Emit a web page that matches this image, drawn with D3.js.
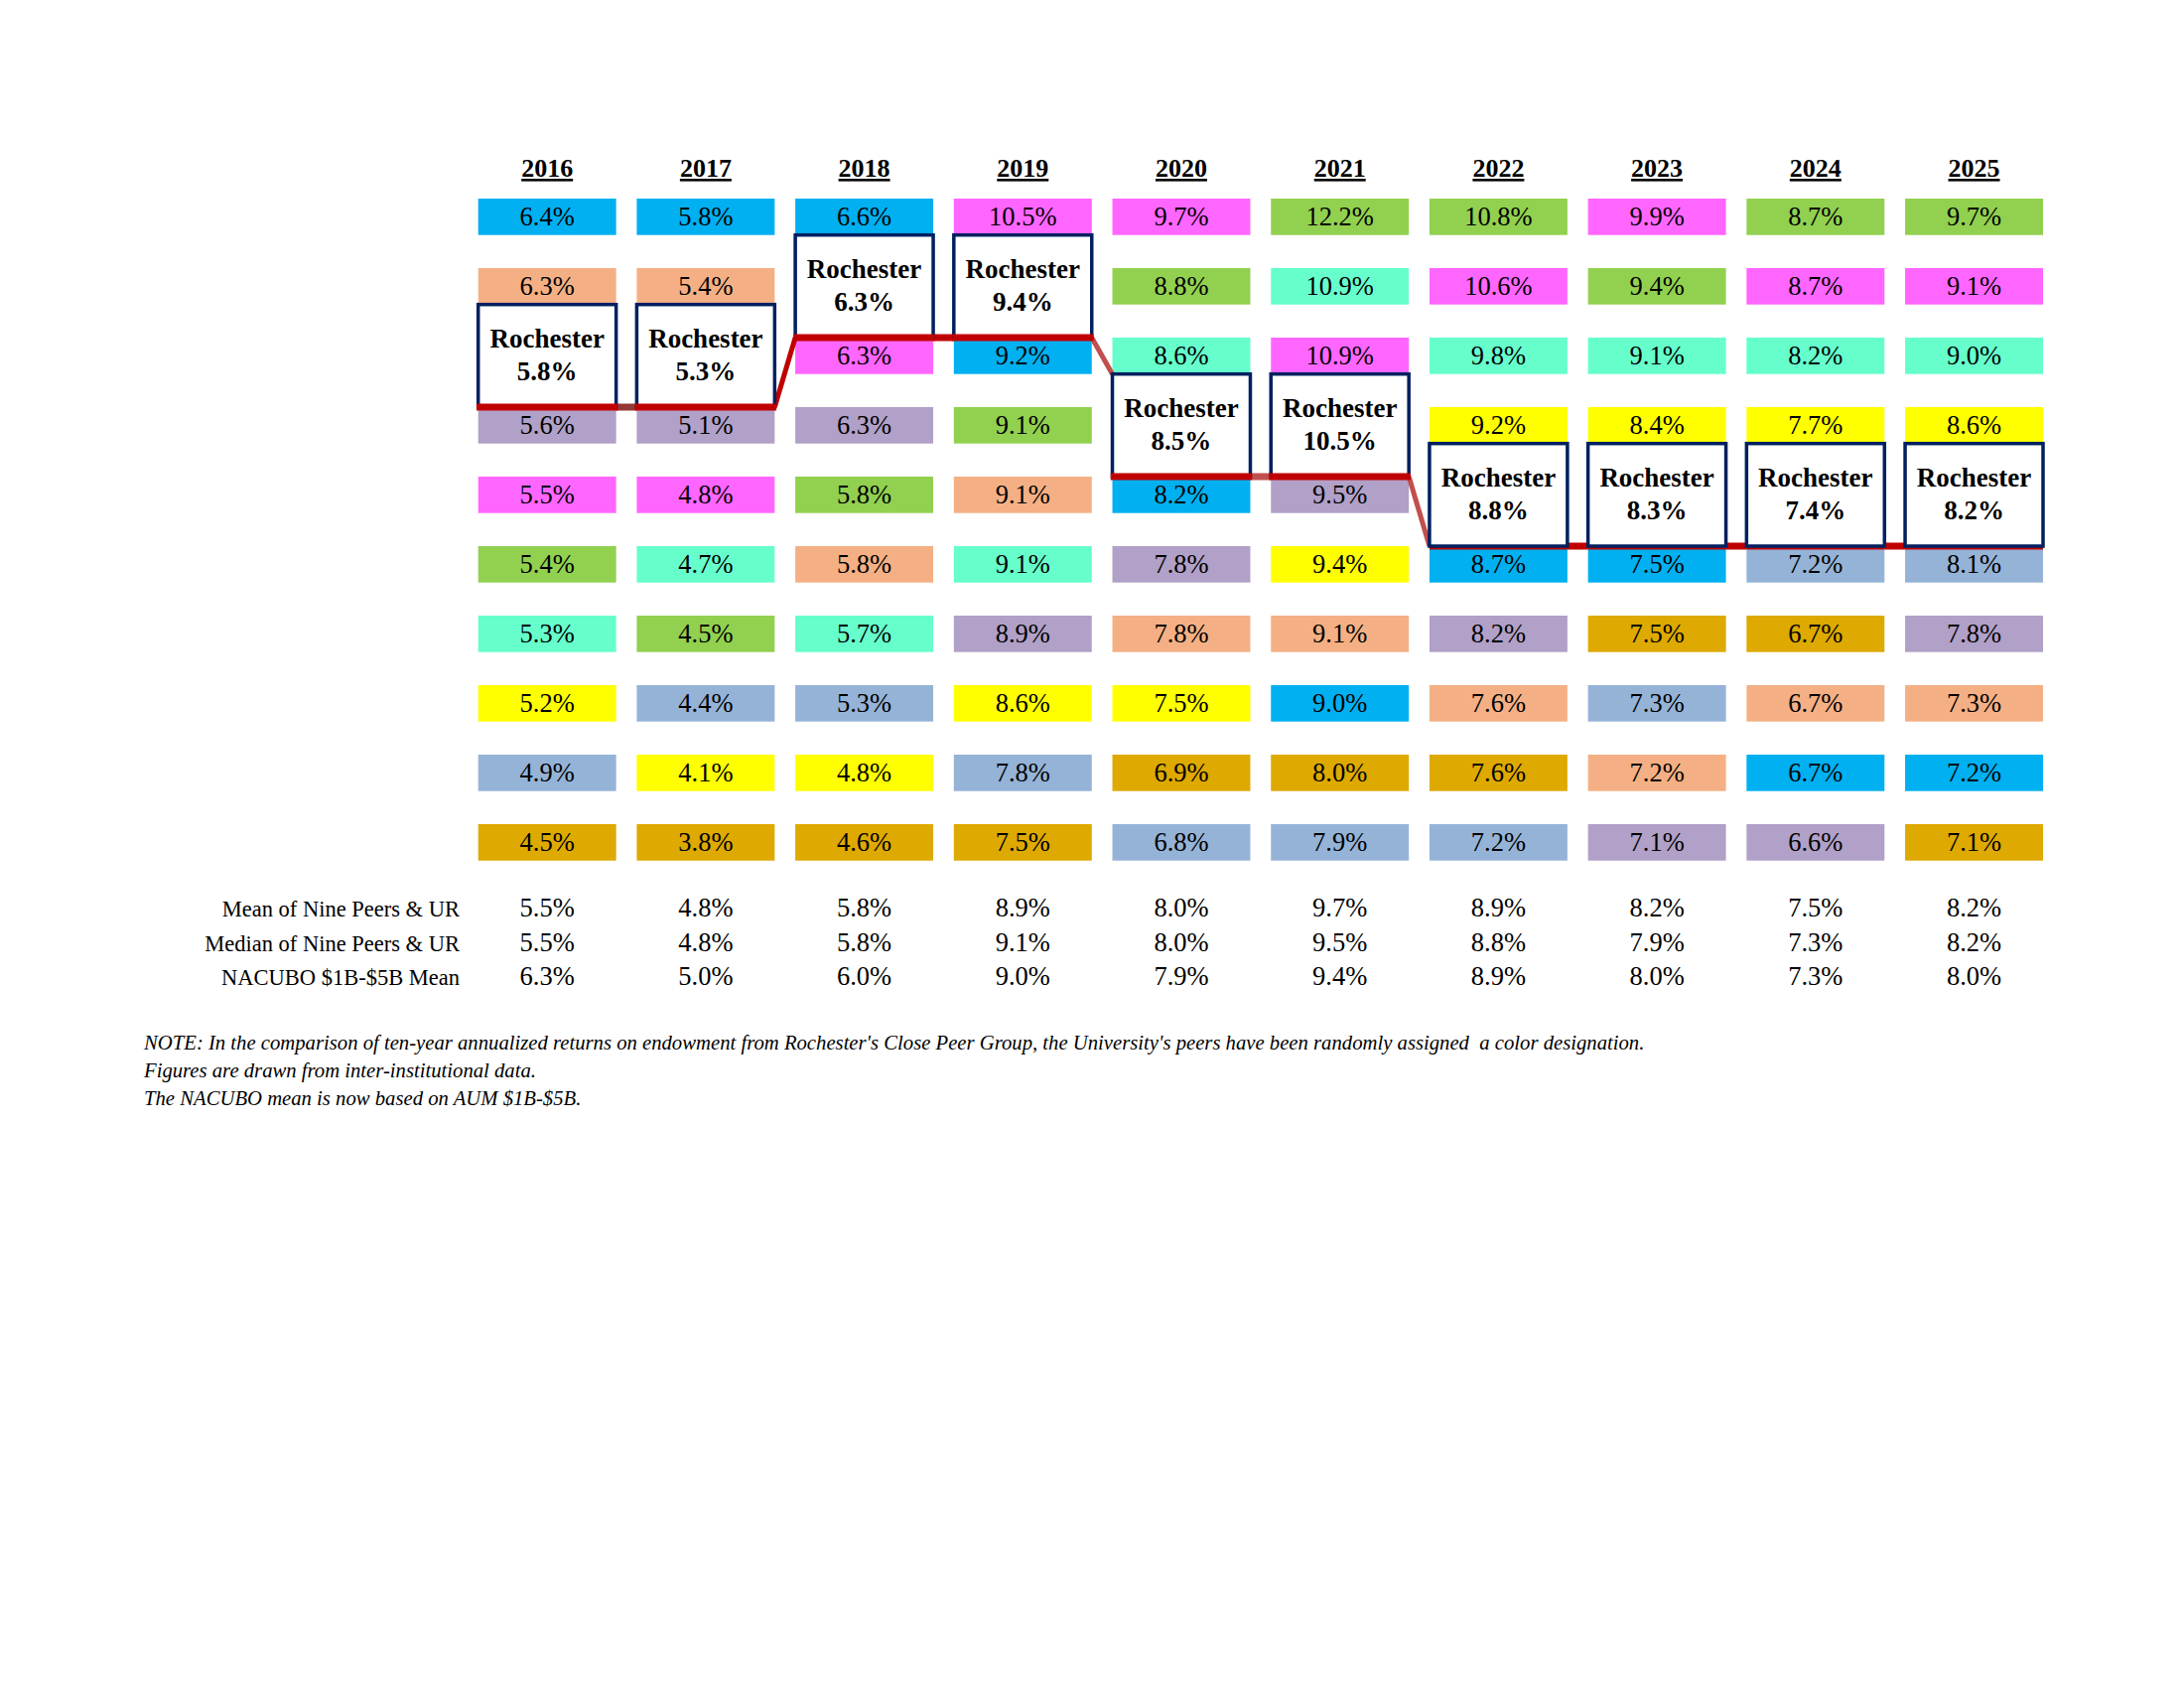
<!DOCTYPE html>
<html>
<head>
<meta charset="utf-8">
<script src="https://cdn.jsdelivr.net/npm/d3@7"></script>
<style>
  body { margin: 0; background: #fff; }
  text { font-family: "Times New Roman", "Liberation Serif", serif; }
</style>
</head>
<body>
<svg id="chart"></svg>
<script>
// ten-year annualized returns, peers ranked top to bottom per year
const years = [2016, 2017, 2018, 2019, 2020, 2021, 2022, 2023, 2024, 2025];

const peerColors = {
  blue: "#00B0F0", salmon: "#F4B084", lavender: "#B1A0C7", magenta: "#FF66FF",
  green: "#92D050", aqua: "#66FFCC", yellow: "#FFFF00", steel: "#95B3D7", gold: "#DEA900"
};

const col2016 = [["blue",6.4],["salmon",6.3],["UR",5.8],["lavender",5.6],["magenta",5.5],["green",5.4],["aqua",5.3],["yellow",5.2],["steel",4.9],["gold",4.5]];
const col2017 = [["blue",5.8],["salmon",5.4],["UR",5.3],["lavender",5.1],["magenta",4.8],["aqua",4.7],["green",4.5],["steel",4.4],["yellow",4.1],["gold",3.8]];
const col2018 = [["blue",6.6],["UR",6.3],["magenta",6.3],["lavender",6.3],["green",5.8],["salmon",5.8],["aqua",5.7],["steel",5.3],["yellow",4.8],["gold",4.6]];
const col2019 = [["magenta",10.5],["UR",9.4],["blue",9.2],["green",9.1],["salmon",9.1],["aqua",9.1],["lavender",8.9],["yellow",8.6],["steel",7.8],["gold",7.5]];
const col2020 = [["magenta",9.7],["green",8.8],["aqua",8.6],["UR",8.5],["blue",8.2],["lavender",7.8],["salmon",7.8],["yellow",7.5],["gold",6.9],["steel",6.8]];
const col2021 = [["green",12.2],["aqua",10.9],["magenta",10.9],["UR",10.5],["lavender",9.5],["yellow",9.4],["salmon",9.1],["blue",9.0],["gold",8.0],["steel",7.9]];
const col2022 = [["green",10.8],["magenta",10.6],["aqua",9.8],["yellow",9.2],["UR",8.8],["blue",8.7],["lavender",8.2],["salmon",7.6],["gold",7.6],["steel",7.2]];
const col2023 = [["magenta",9.9],["green",9.4],["aqua",9.1],["yellow",8.4],["UR",8.3],["blue",7.5],["gold",7.5],["steel",7.3],["salmon",7.2],["lavender",7.1]];
const col2024 = [["green",8.7],["magenta",8.7],["aqua",8.2],["yellow",7.7],["UR",7.4],["steel",7.2],["gold",6.7],["salmon",6.7],["blue",6.7],["lavender",6.6]];
const col2025 = [["green",9.7],["magenta",9.1],["aqua",9.0],["yellow",8.6],["UR",8.2],["steel",8.1],["lavender",7.8],["salmon",7.3],["blue",7.2],["gold",7.1]];
const columns = [col2016, col2017, col2018, col2019, col2020, col2021, col2022, col2023, col2024, col2025];

const statLabels = ["Mean of Nine Peers & UR", "Median of Nine Peers & UR", "NACUBO $1B-$5B Mean"];
const meanPeers   = [5.5, 4.8, 5.8, 8.9, 8.0, 9.7, 8.9, 8.2, 7.5, 8.2];
const medianPeers = [5.5, 4.8, 5.8, 9.1, 8.0, 9.5, 8.8, 7.9, 7.3, 8.2];
const nacuboMean  = [6.3, 5.0, 6.0, 9.0, 7.9, 9.4, 8.9, 8.0, 7.3, 8.0];

const notes = [
  "NOTE: In the comparison of ten-year annualized returns on endowment from Rochester's Close Peer Group, the University's peers have been randomly assigned  a color designation.",
  "Figures are drawn from inter-institutional data.",
  "The NACUBO mean is now based on AUM $1B-$5B."
];

// styling of the Rochester trail
const red = "#C00000", brick = "#C0504D", darkBrick = "#953735";
const connectorColors = [darkBrick, red, red, brick, brick, brick, red, red, red];
const lineOverBox = new Set([2016, 2017, 2018, 2019, 2020, 2021]);
const enterAtTop = new Set([2020]);

const W = 2200, H = 1700;
const pct = d => d3.format(".1f")(d) + "%";

const svg = d3.select("#chart").attr("width", W).attr("height", H);
svg.append("rect").attr("width", W).attr("height", H).attr("fill", "#fff");

const x = d3.scaleBand().domain(years).range([481.7, 2058]).paddingInner(0.13);
const y = d3.scaleBand().domain(d3.range(10)).range([200, 866.7]).paddingInner(0.476);
const bw = x.bandwidth(), bh = y.bandwidth();
const cx = yr => x(yr) + bw / 2;

// headers
svg.append("g").selectAll("text").data(years).join("text")
  .attr("x", cx).attr("y", 178)
  .attr("text-anchor", "middle")
  .attr("font-size", 26).attr("font-weight", "bold")
  .style("text-decoration", "underline")
  .text(d => d);

// peer cells
const cells = years.flatMap((yr, i) => columns[i].map(([key, v], r) => ({ yr, key, v, r })));
const peers = cells.filter(d => d.key !== "UR");
const ur = cells.filter(d => d.key === "UR");

const gPeers = svg.append("g");
gPeers.selectAll("rect").data(peers).join("rect")
  .attr("x", d => x(d.yr)).attr("y", d => y(d.r))
  .attr("width", bw).attr("height", bh)
  .attr("fill", d => peerColors[d.key]);
gPeers.selectAll("text").data(peers).join("text")
  .attr("x", d => cx(d.yr)).attr("y", d => y(d.r) + bh / 2 + 9)
  .attr("text-anchor", "middle").attr("font-size", 26.5)
  .text(d => pct(d.v));

// Rochester box geometry
const boxTop = d => y(d.r - 1) + bh;
const boxBottom = d => y(d.r + 1);

// connectors between Rochester boxes (under boxes)
const gLine = svg.append("g").attr("stroke-linecap", "butt");
d3.pairs(ur).forEach(([a, b], i) => {
  const yb = enterAtTop.has(b.yr) ? boxTop(b) : boxBottom(b);
  gLine.append("line")
    .attr("x1", x(a.yr) + bw).attr("y1", boxBottom(a))
    .attr("x2", x(b.yr)).attr("y2", yb)
    .attr("stroke", connectorColors[i])
    .attr("stroke-width", a.r === b.r ? 7 : 5);
});
ur.filter(d => !lineOverBox.has(d.yr)).forEach(d => {
  gLine.append("line")
    .attr("x1", x(d.yr)).attr("x2", x(d.yr) + bw)
    .attr("y1", boxBottom(d)).attr("y2", boxBottom(d))
    .attr("stroke", red).attr("stroke-width", 7);
});

const gUR = svg.append("g");
gUR.selectAll("rect").data(ur).join("rect")
  .attr("x", d => x(d.yr)).attr("y", boxTop)
  .attr("width", bw).attr("height", d => boxBottom(d) - boxTop(d))
  .attr("fill", "#fff").attr("stroke", "#002060").attr("stroke-width", 3.5);

const gOver = svg.append("g");
ur.filter(d => lineOverBox.has(d.yr)).forEach(d => {
  gOver.append("line")
    .attr("x1", x(d.yr) - 1.75).attr("x2", x(d.yr) + bw + 1.75)
    .attr("y1", boxBottom(d)).attr("y2", boxBottom(d))
    .attr("stroke", red).attr("stroke-width", 7);
});

const urText = gUR.selectAll("g.lbl").data(ur).join("g").attr("class", "lbl");
urText.append("text")
  .attr("x", d => cx(d.yr)).attr("y", d => (boxTop(d) + boxBottom(d)) / 2 - 8)
  .attr("text-anchor", "middle").attr("font-size", 27).attr("font-weight", "bold")
  .text("Rochester");
urText.append("text")
  .attr("x", d => cx(d.yr)).attr("y", d => (boxTop(d) + boxBottom(d)) / 2 + 25)
  .attr("text-anchor", "middle").attr("font-size", 27).attr("font-weight", "bold")
  .text(d => pct(d.v));

// summary rows
const statRows = [meanPeers, medianPeers, nacuboMean];
const statY = d3.scalePoint().domain(d3.range(3)).range([923, 992]);
const gStats = svg.append("g");
statRows.forEach((vals, i) => {
  gStats.append("text")
    .attr("x", 463).attr("y", statY(i))
    .attr("text-anchor", "end").attr("font-size", 22.5)
    .text(statLabels[i]);
  gStats.append("g").selectAll("text").data(vals).join("text")
    .attr("x", (d, j) => cx(years[j])).attr("y", statY(i))
    .attr("text-anchor", "middle").attr("font-size", 26.5)
    .text(pct);
});

// notes
svg.append("g").selectAll("text").data(notes).join("text")
  .attr("x", 145).attr("y", (d, i) => 1057 + i * 28)
  .attr("font-size", 20.7).attr("font-style", "italic")
  .style("white-space", "pre")
  .text(d => d);
</script>
</body>
</html>
